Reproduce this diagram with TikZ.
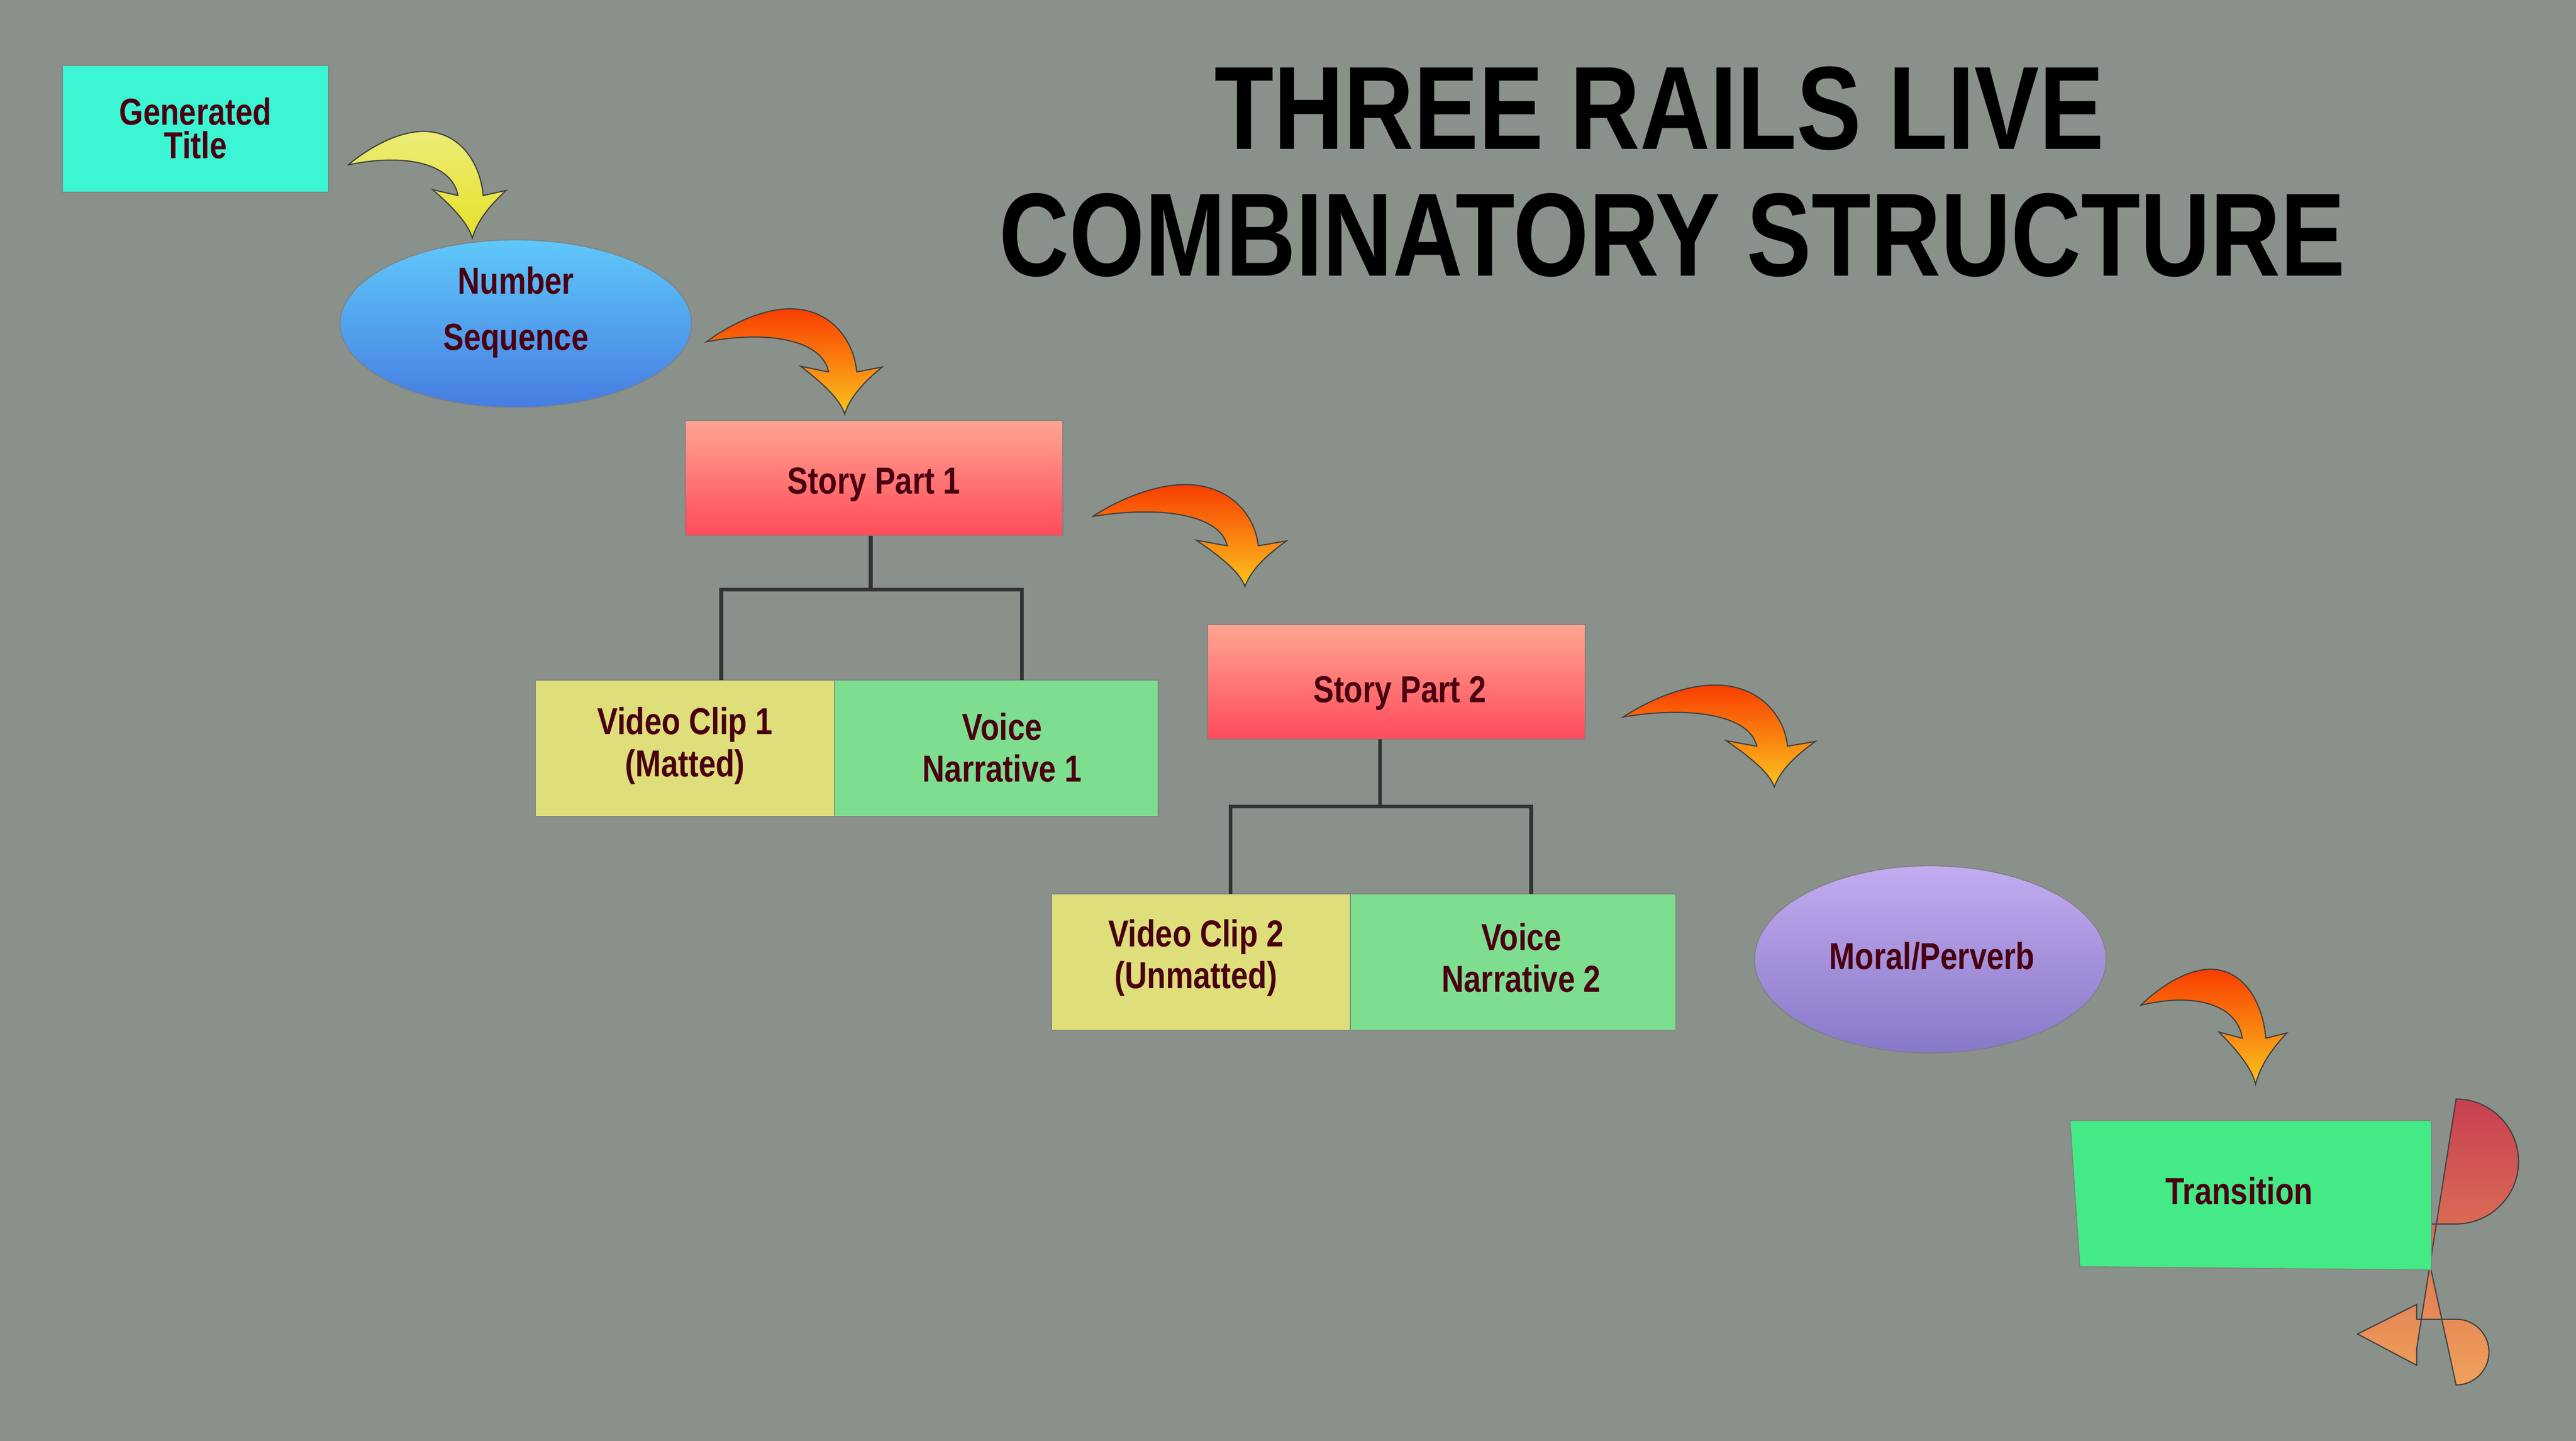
\documentclass[tikz,border=0pt]{standalone}
\usepackage{fontspec}
\setmainfont{Liberation Sans}[FakeStretch=0.82]
\begin{document}
\begin{tikzpicture}[x=0.02cm,y=-0.02cm,
  lbl/.style={font=\fontsize{13}{14.5}\selectfont\bfseries, text=txt, align=center},
  box/.style={draw=black!50, line width=0.3pt},
  conn/.style={draw=black!80, line width=1.3pt},
  arr/.style={draw=black!75, line width=0.4pt}]
\definecolor{bg}{HTML}{8A908A}
\definecolor{txt}{HTML}{4A0012}
\newcommand\carrow[5]{%
 \begin{scope}[shift={(#1,#2)},xscale=#3,yscale=#4]
 \path[arr,#5] (0,0.313) .. controls (0.177,0.097) and (0.359,-0.01) .. (0.495,0)
   .. controls (0.722,0.016) and (0.84,0.32) .. (0.855,0.6) -- (1,0.553)
   .. controls (0.9,0.69) and (0.82,0.83) .. (0.786,1)
   .. controls (0.76,0.85) and (0.64,0.68) .. (0.536,0.546) -- (0.695,0.6)
   .. controls (0.66,0.3) and (0.36,0.2) .. cycle;
 \end{scope}}
\fill[bg] (0,0) rectangle (1568,877);
\useasboundingbox (0,0) rectangle (1568,877);
% title
\node[font=\fontsize{41}{44}\selectfont\bfseries] (t1) at (1010,66) {THREE RAILS LIVE};
\node[font=\fontsize{41}{44}\selectfont\bfseries] (t2) at (1018,143) {COMBINATORY STRUCTURE};
% nodes
\fill[box,fill={rgb,255:red,60;green,245;blue,210}] (38,40) rectangle (200,117);
\node[lbl] (gt) at (119,78) {Generated\\[-3pt]Title};
\shade[box,top color={rgb,255:red,95;green,200;blue,250},bottom color={rgb,255:red,70;green,125;blue,225}] (314,197) ellipse [x radius=107,y radius=51];
\node[lbl] (ns) at (314,190) {Number\\[5pt]Sequence};
\shade[box,top color={rgb,255:red,255;green,165;blue,145},bottom color={rgb,255:red,255;green,75;blue,90}] (417,256) rectangle (647,326);
\node[lbl] (sp1) at (532,295) {Story Part 1};
\fill[box,fill={rgb,255:red,222;green,222;blue,122}] (326,414) rectangle (508,497);
\fill[box,fill={rgb,255:red,126;green,222;blue,144}] (508,414) rectangle (705,497);
\node[lbl] (vc1) at (417,454) {Video Clip 1\\(Matted)};
\node[lbl] (vn1) at (610,455) {Voice\\Narrative 1};
\draw[conn] (530,326) -- (530,359) (439,414) -- (439,359) -- (622,359) -- (622,414);
\shade[box,top color={rgb,255:red,255;green,165;blue,145},bottom color={rgb,255:red,255;green,75;blue,90}] (735,380) rectangle (965,450);
\node[lbl] (sp2) at (852,422) {Story Part 2};
\fill[box,fill={rgb,255:red,222;green,222;blue,122}] (640,544) rectangle (822,627);
\fill[box,fill={rgb,255:red,126;green,222;blue,144}] (822,544) rectangle (1020,627);
\node[lbl] (vc2) at (728,583) {Video Clip 2\\(Unmatted)};
\node[lbl] (vn2) at (926,583) {Voice\\Narrative 2};
\draw[conn] (840,450) -- (840,491) (749,544) -- (749,491) -- (932,491) -- (932,544);
\shade[box,top color={rgb,255:red,195;green,172;blue,240},bottom color={rgb,255:red,135;green,120;blue,200}] (1175,584) ellipse [x radius=107,y radius=57];
\node[lbl] (mp) at (1176,582) {Moral/Perverb};
% U-turn arrow
\shade[arr,top color={rgb,255:red,200;green,64;blue,82},bottom color={rgb,255:red,240;green,162;blue,90}]
 (1478,745) -- (1495,745) arc[start angle=90,end angle=-90,radius=38] -- (1471,821) -- (1471,831) -- (1435,812) -- (1471,794) -- (1471,803) -- (1495,803) arc[start angle=-90,end angle=90,radius=20] -- (1478,765) -- cycle;
\fill[box,fill={rgb,255:red,68;green,234;blue,134}] (1260,682) -- (1480,682) -- (1480,773) -- (1266,771) -- cycle;
\node[lbl] (tr) at (1363,725) {Transition};
% curved arrows
\carrow{212}{80}{96}{65}{top color={rgb,255:red,236;green,236;blue,120},bottom color={rgb,255:red,230;green,225;blue,40}}
\carrow{430}{188}{107}{64}{top color={rgb,255:red,248;green,60;blue,0},bottom color={rgb,255:red,252;green,196;blue,30}}
\carrow{665}{295}{118}{62}{top color={rgb,255:red,248;green,60;blue,0},bottom color={rgb,255:red,252;green,196;blue,30}}
\carrow{988}{417}{117}{62}{top color={rgb,255:red,248;green,60;blue,0},bottom color={rgb,255:red,252;green,196;blue,30}}
\carrow{1303}{590}{89}{70}{top color={rgb,255:red,248;green,60;blue,0},bottom color={rgb,255:red,252;green,196;blue,30}}
\end{tikzpicture}
\end{document}
